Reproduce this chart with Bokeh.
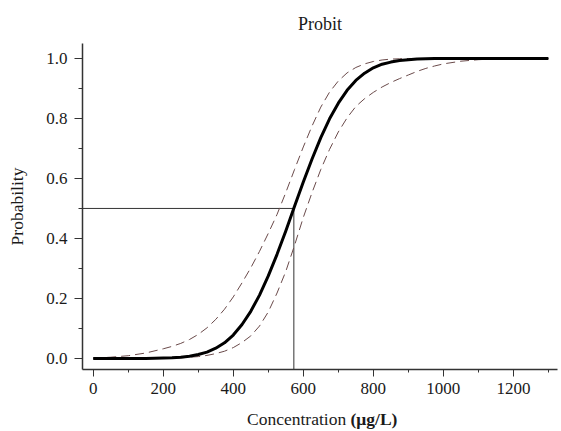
from bokeh.plotting import figure
from bokeh.models import SingleIntervalTicker, NumeralTickFormatter, Range1d, Div
from bokeh.layouts import column
from bokeh.embed import file_html
from bokeh.resources import INLINE

# Concentration (µg/L) sample points
conc = [0, 50, 100, 150,
        200, 225, 250, 275, 300, 325, 350, 375, 400, 425, 450, 475, 500, 525, 550, 575,
        600, 625, 650, 675, 700, 725, 750, 775, 800, 825, 850, 875, 900, 925, 950, 975, 1000,
        1050, 1100, 1150, 1200, 1250, 1300]
# Fitted probit curve (solid)
prob_fit = [0.000, 0.000, 0.000, 0.000,
            0.001, 0.002, 0.004, 0.007, 0.013, 0.021, 0.034, 0.052, 0.078, 0.113, 0.157,
            0.211, 0.275, 0.347, 0.425, 0.507, 0.588, 0.665, 0.736, 0.799, 0.851, 0.894,
            0.927, 0.951, 0.969, 0.981, 0.988, 0.993, 0.996, 0.998, 0.999, 1.000, 1.000,
            1.000, 1.000, 1.000, 1.000, 1.000, 1.000]
# Upper confidence limit (left dashed)
prob_upper = [0.001, 0.004, 0.009, 0.018,
              0.032, 0.040, 0.050, 0.063, 0.080, 0.102, 0.130, 0.164, 0.205, 0.252, 0.302,
              0.357, 0.417, 0.480, 0.553, 0.630, 0.705, 0.775, 0.838, 0.888, 0.925, 0.952,
              0.970, 0.982, 0.990, 0.995, 0.998, 0.999, 1.000, 1.000, 1.000, 1.000, 1.000,
              1.000, 1.000, 1.000, 1.000, 1.000, 1.000]
# Lower confidence limit (right dashed)
prob_lower = [0.000, 0.000, 0.000, 0.000,
              0.001, 0.001, 0.002, 0.004, 0.006, 0.010, 0.016, 0.024, 0.036, 0.053, 0.075,
              0.108, 0.155, 0.218, 0.290, 0.377, 0.470, 0.553, 0.630, 0.697, 0.755, 0.802,
              0.840, 0.866, 0.887, 0.905, 0.920, 0.933, 0.945, 0.957, 0.967, 0.975, 0.982,
              0.991, 0.996, 0.999, 1.000, 1.000, 1.000]
lc50 = 573
p50 = 0.5

x_start, x_end = -30.6, 1326
y_start, y_end = -0.037, 1.05

FONT = "Liberation Serif"
TXT = "#1a1a1a"

p = figure(width=560, height=407, output_backend="svg", toolbar_location=None,
           x_range=Range1d(x_start, x_end), y_range=Range1d(y_start, y_end),
           min_border_left=82, min_border_right=3, min_border_top=43, min_border_bottom=38,
           margin=(0, 0, 0, 0))
p.outline_line_color = None
p.grid.visible = False
p.background_fill_color = "white"
p.border_fill_color = "white"

p.title.text = "Probit"
p.title.text_font = FONT
p.title.text_font_size = "18px"
p.title.text_font_style = "normal"
p.title.align = "center"
p.title.text_color = TXT
p.title.standoff = 20

# reference lines at LC50
p.segment(x0=[x_start], y0=[p50], x1=[lc50], y1=[p50], line_color="#333333", line_width=1)
p.segment(x0=[lc50], y0=[y_start], x1=[lc50], y1=[p50], line_color="#333333", line_width=1)

p.line(conc, prob_upper, line_color="#6a4a4a", line_width=1, line_dash="9 5")
p.line(conc, prob_lower, line_color="#6a4a4a", line_width=1, line_dash="9 5")
p.line(conc, prob_fit, line_color="black", line_width=3, line_join="round")

# axes
p.xaxis.ticker = SingleIntervalTicker(interval=200, num_minor_ticks=2)
p.yaxis.ticker = SingleIntervalTicker(interval=0.2, num_minor_ticks=2)
p.yaxis.formatter = NumeralTickFormatter(format="0.0")
for ax in (p.xaxis, p.yaxis):
    ax.axis_line_color = "#333333"
    ax.axis_line_width = 1.5
    ax.major_tick_line_color = "#333333"
    ax.minor_tick_line_color = "#333333"
    ax.major_tick_in = 0
    ax.minor_tick_in = 0
    ax.major_label_text_font = FONT
    ax.major_label_text_font_size = "17px"
    ax.major_label_text_color = TXT
    ax.axis_label_text_font = FONT
    ax.axis_label_text_font_style = "normal"
    ax.axis_label_text_font_size = "17.5px"
    ax.axis_label_text_color = TXT

p.xaxis.major_tick_out = 7
p.xaxis.minor_tick_out = 3
p.xaxis.major_label_standoff = 6
p.yaxis.major_tick_out = 8
p.yaxis.minor_tick_out = 4
p.yaxis.major_label_standoff = 7

p.yaxis.axis_label = "Probability"
p.yaxis.axis_label_standoff = 16

xlabel = Div(text="Concentration <b>(\u03bcg/L)</b>", width=560, height=24,
             margin=(0, 0, 0, 0),
             styles={"font-family": FONT, "font-size": "17.5px", "color": TXT,
                     "padding-left": "247px", "line-height": "24px",
                     "box-sizing": "border-box", "white-space": "nowrap"})

layout = column(p, xlabel, spacing=0)
open("out.html", "w").write(file_html(layout, INLINE))
